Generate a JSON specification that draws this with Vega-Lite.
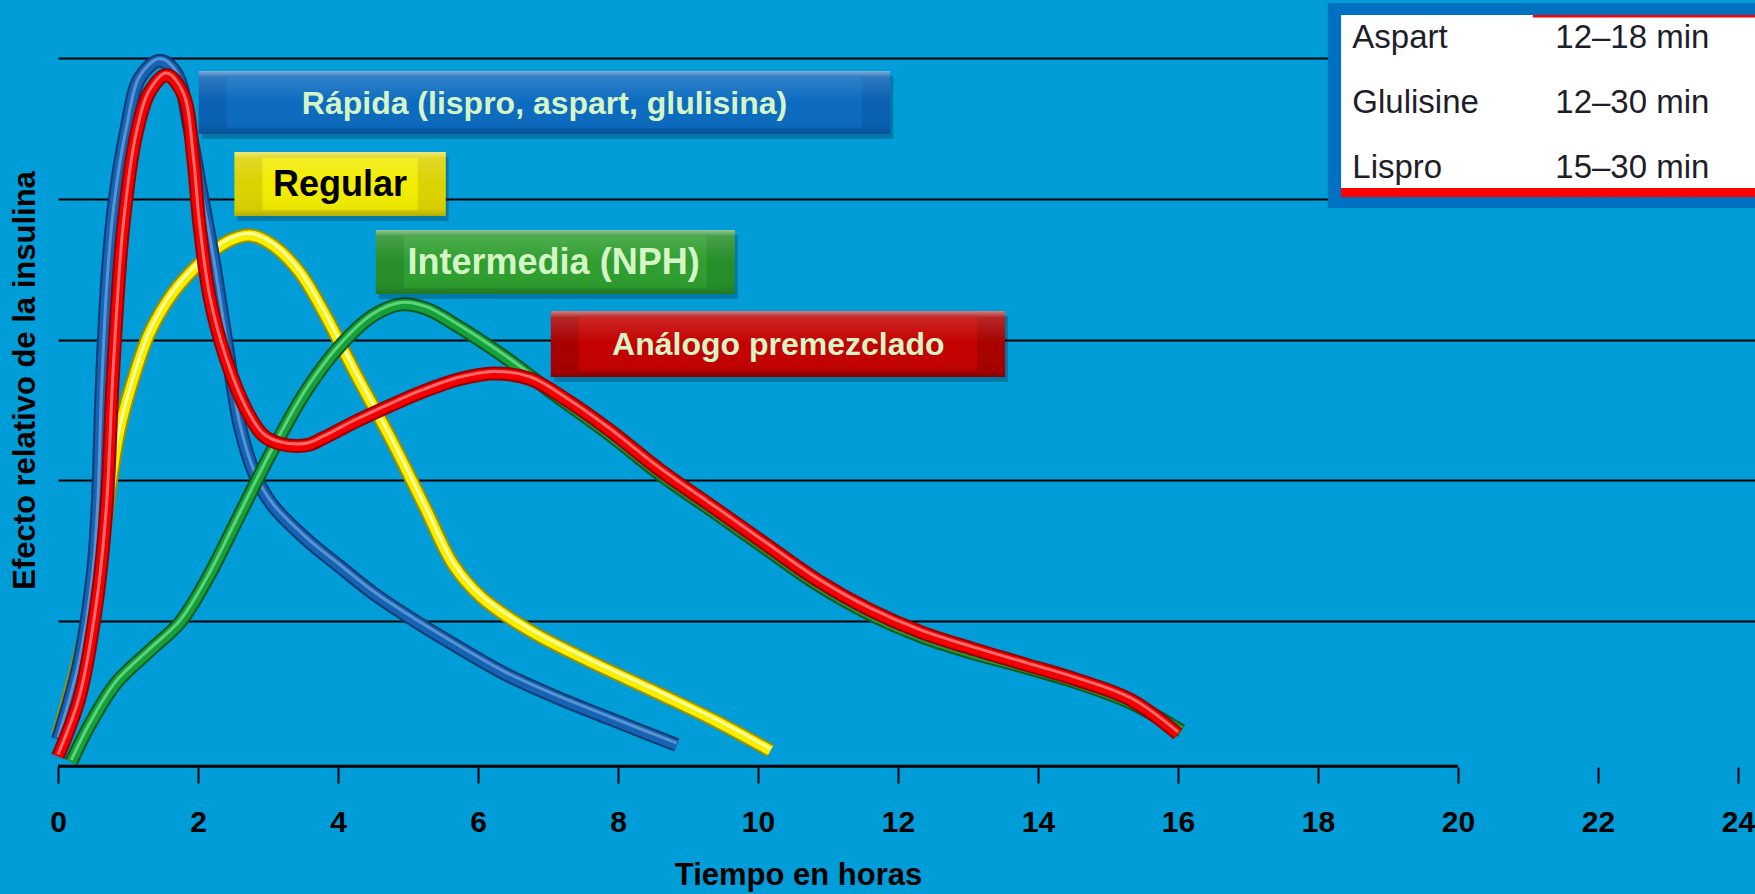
{
  "$schema": "https://vega.github.io/schema/vega-lite/v6.json",
  "width": 1697,
  "height": 767,
  "autosize": "none",
  "padding": {"left": 58, "top": 0, "right": 0, "bottom": 127},
  "background": "#019DD9",
  "config": {"view": {"stroke": null}, "font": "Liberation Sans"},
  "datasets": {
    "curvas": [
      {"serie": "Rápida", "hora": 0, "efecto": 0.16},
      {"serie": "Rápida", "hora": 0.3, "efecto": 0.7},
      {"serie": "Rápida", "hora": 0.5, "efecto": 1.35},
      {"serie": "Rápida", "hora": 0.57, "efecto": 1.85},
      {"serie": "Rápida", "hora": 0.62, "efecto": 2.6},
      {"serie": "Rápida", "hora": 0.7, "efecto": 3.4},
      {"serie": "Rápida", "hora": 0.8, "efecto": 3.95},
      {"serie": "Rápida", "hora": 0.98, "efecto": 4.5},
      {"serie": "Rápida", "hora": 1.17, "efecto": 4.86},
      {"serie": "Rápida", "hora": 1.45, "efecto": 4.98},
      {"serie": "Rápida", "hora": 1.69, "efecto": 4.89},
      {"serie": "Rápida", "hora": 1.88, "efecto": 4.5},
      {"serie": "Rápida", "hora": 2.02, "efecto": 4.12},
      {"serie": "Rápida", "hora": 2.21, "efecto": 3.6},
      {"serie": "Rápida", "hora": 2.4, "efecto": 3.0},
      {"serie": "Rápida", "hora": 2.6, "efecto": 2.38},
      {"serie": "Rápida", "hora": 2.83, "efecto": 2.02},
      {"serie": "Rápida", "hora": 3.07, "efecto": 1.82},
      {"serie": "Rápida", "hora": 3.55, "efecto": 1.58},
      {"serie": "Rápida", "hora": 4.02, "efecto": 1.39},
      {"serie": "Rápida", "hora": 4.5, "efecto": 1.2},
      {"serie": "Rápida", "hora": 4.98, "efecto": 1.04},
      {"serie": "Rápida", "hora": 5.6, "efecto": 0.85},
      {"serie": "Rápida", "hora": 6.37, "efecto": 0.63},
      {"serie": "Rápida", "hora": 7.12, "efecto": 0.46},
      {"serie": "Rápida", "hora": 7.87, "efecto": 0.31},
      {"serie": "Rápida", "hora": 8.84, "efecto": 0.12},

      {"serie": "Regular", "hora": 0, "efecto": 0.19},
      {"serie": "Regular", "hora": 0.36, "efecto": 0.86},
      {"serie": "Regular", "hora": 0.6, "efecto": 1.46},
      {"serie": "Regular", "hora": 0.88, "efecto": 2.36},
      {"serie": "Regular", "hora": 1.12, "efecto": 2.79},
      {"serie": "Regular", "hora": 1.31, "efecto": 3.05},
      {"serie": "Regular", "hora": 1.64, "efecto": 3.33},
      {"serie": "Regular", "hora": 2.02, "efecto": 3.54},
      {"serie": "Regular", "hora": 2.4, "efecto": 3.69},
      {"serie": "Regular", "hora": 2.75, "efecto": 3.74},
      {"serie": "Regular", "hora": 3.07, "efecto": 3.67},
      {"serie": "Regular", "hora": 3.45, "efecto": 3.48},
      {"serie": "Regular", "hora": 3.79, "efecto": 3.2},
      {"serie": "Regular", "hora": 4.26, "efecto": 2.75},
      {"serie": "Regular", "hora": 4.77, "efecto": 2.28},
      {"serie": "Regular", "hora": 5.25, "efecto": 1.8},
      {"serie": "Regular", "hora": 5.65, "efecto": 1.4},
      {"serie": "Regular", "hora": 6.05, "efecto": 1.17},
      {"serie": "Regular", "hora": 6.75, "efecto": 0.93},
      {"serie": "Regular", "hora": 7.49, "efecto": 0.74},
      {"serie": "Regular", "hora": 8.61, "efecto": 0.48},
      {"serie": "Regular", "hora": 9.36, "efecto": 0.3},
      {"serie": "Regular", "hora": 10.18, "efecto": 0.08},

      {"serie": "Intermedia", "hora": 0.19, "efecto": 0},
      {"serie": "Intermedia", "hora": 0.45, "efecto": 0.26},
      {"serie": "Intermedia", "hora": 0.83, "efecto": 0.56},
      {"serie": "Intermedia", "hora": 1.31, "efecto": 0.79},
      {"serie": "Intermedia", "hora": 1.74, "efecto": 0.99},
      {"serie": "Intermedia", "hora": 2.12, "efecto": 1.29},
      {"serie": "Intermedia", "hora": 2.6, "efecto": 1.76},
      {"serie": "Intermedia", "hora": 3.07, "efecto": 2.22},
      {"serie": "Intermedia", "hora": 3.55, "efecto": 2.64},
      {"serie": "Intermedia", "hora": 4.02, "efecto": 2.95},
      {"serie": "Intermedia", "hora": 4.5, "efecto": 3.17},
      {"serie": "Intermedia", "hora": 4.9, "efecto": 3.25},
      {"serie": "Intermedia", "hora": 5.26, "efecto": 3.22},
      {"serie": "Intermedia", "hora": 5.63, "efecto": 3.12},
      {"serie": "Intermedia", "hora": 6.37, "efecto": 2.88},
      {"serie": "Intermedia", "hora": 7.12, "efecto": 2.6},
      {"serie": "Intermedia", "hora": 7.87, "efecto": 2.33},
      {"serie": "Intermedia", "hora": 8.61, "efecto": 2.04},
      {"serie": "Intermedia", "hora": 9.36, "efecto": 1.78},
      {"serie": "Intermedia", "hora": 10.1, "efecto": 1.52},
      {"serie": "Intermedia", "hora": 10.85, "efecto": 1.26},
      {"serie": "Intermedia", "hora": 11.6, "efecto": 1.05},
      {"serie": "Intermedia", "hora": 12.34, "efecto": 0.89},
      {"serie": "Intermedia", "hora": 13.09, "efecto": 0.77},
      {"serie": "Intermedia", "hora": 13.84, "efecto": 0.67},
      {"serie": "Intermedia", "hora": 14.58, "efecto": 0.56},
      {"serie": "Intermedia", "hora": 15.33, "efecto": 0.42},
      {"serie": "Intermedia", "hora": 16.05, "efecto": 0.22},

      {"serie": "Análogo", "hora": 0, "efecto": 0.04},
      {"serie": "Análogo", "hora": 0.31, "efecto": 0.46},
      {"serie": "Análogo", "hora": 0.55, "efecto": 1.12},
      {"serie": "Análogo", "hora": 0.69, "efecto": 1.79},
      {"serie": "Análogo", "hora": 0.79, "efecto": 2.79},
      {"serie": "Análogo", "hora": 0.93, "efecto": 3.79},
      {"serie": "Análogo", "hora": 1.12, "efecto": 4.46},
      {"serie": "Análogo", "hora": 1.31, "efecto": 4.76},
      {"serie": "Análogo", "hora": 1.55, "efecto": 4.88},
      {"serie": "Análogo", "hora": 1.79, "efecto": 4.74},
      {"serie": "Análogo", "hora": 1.93, "efecto": 4.3},
      {"serie": "Análogo", "hora": 2.02, "efecto": 3.82},
      {"serie": "Análogo", "hora": 2.17, "efecto": 3.29},
      {"serie": "Análogo", "hora": 2.4, "efecto": 2.86},
      {"serie": "Análogo", "hora": 2.69, "efecto": 2.5},
      {"serie": "Análogo", "hora": 2.93, "efecto": 2.32},
      {"serie": "Análogo", "hora": 3.17, "efecto": 2.26},
      {"serie": "Análogo", "hora": 3.55, "efecto": 2.25},
      {"serie": "Análogo", "hora": 3.79, "efecto": 2.3},
      {"serie": "Análogo", "hora": 4.26, "efecto": 2.42},
      {"serie": "Análogo", "hora": 4.74, "efecto": 2.53},
      {"serie": "Análogo", "hora": 5.21, "efecto": 2.63},
      {"serie": "Análogo", "hora": 5.74, "efecto": 2.72},
      {"serie": "Análogo", "hora": 6.22, "efecto": 2.76},
      {"serie": "Análogo", "hora": 6.75, "efecto": 2.72},
      {"serie": "Análogo", "hora": 7.27, "efecto": 2.57},
      {"serie": "Análogo", "hora": 7.87, "efecto": 2.36},
      {"serie": "Análogo", "hora": 8.61, "efecto": 2.07},
      {"serie": "Análogo", "hora": 9.36, "efecto": 1.81},
      {"serie": "Análogo", "hora": 10.1, "efecto": 1.55},
      {"serie": "Análogo", "hora": 10.85, "efecto": 1.29},
      {"serie": "Análogo", "hora": 11.6, "efecto": 1.08},
      {"serie": "Análogo", "hora": 12.34, "efecto": 0.92},
      {"serie": "Análogo", "hora": 13.09, "efecto": 0.8},
      {"serie": "Análogo", "hora": 13.84, "efecto": 0.69},
      {"serie": "Análogo", "hora": 14.58, "efecto": 0.58},
      {"serie": "Análogo", "hora": 15.33, "efecto": 0.44},
      {"serie": "Análogo", "hora": 16.0, "efecto": 0.2}
    ],
    "cajas": [
      {"serie": "Rápida", "etiqueta": "Rápida (lispro, aspart, glulisina)", "h_ini": 2.01, "h_fin": 11.89, "e_sup": 4.908, "e_inf": 4.46, "h_txt": 6.95, "e_txt": 4.684},
      {"serie": "Regular", "etiqueta": "Regular", "h_ini": 2.52, "h_fin": 5.54, "e_sup": 4.332, "e_inf": 3.878, "h_txt": 4.03, "e_txt": 4.105},
      {"serie": "Intermedia", "etiqueta": "Intermedia (NPH)", "h_ini": 4.54, "h_fin": 9.67, "e_sup": 3.778, "e_inf": 3.324, "h_txt": 7.08, "e_txt": 3.551},
      {"serie": "Análogo", "etiqueta": "Análogo premezclado", "h_ini": 7.04, "h_fin": 13.53, "e_sup": 3.203, "e_inf": 2.734, "h_txt": 10.29, "e_txt": 2.969}
    ],
    "tabla": [
      {"insulina": "Aspart", "inicio": "12–18 min", "fila": 5.071},
      {"insulina": "Glulisine", "inicio": "12–30 min", "fila": 4.609},
      {"insulina": "Lispro", "inicio": "15–30 min", "fila": 4.148}
    ]
  },
  "layer": [
    {"data": {"name": "curvas"}, "transform": [{"filter": "datum.serie === 'Regular'"}],
     "mark": {"type": "line", "interpolate": "catmull-rom", "stroke": "#9C8F00", "strokeWidth": 14, "strokeCap": "butt", "strokeJoin": "round"},
     "encoding": {
       "x": {
         "field": "hora", "type": "quantitative",
         "scale": {"domain": [0, 24.243], "nice": false, "zero": false},
         "axis": {
           "title": "Tiempo en horas",
           "values": [0, 2, 4, 6, 8, 10, 12, 14, 16, 18, 20, 22, 24],
           "format": "d",
           "grid": false, "domain": false,
           "ticks": true, "tickColor": "black", "tickWidth": 2, "tickSize": 16,
           "labelFont": "Liberation Sans", "labelFontSize": 30, "labelFontWeight": "bold", "labelColor": "black",
           "labelBaseline": "alphabetic", "labelPadding": 48,
           "labelFlush": false, "labelOverlap": false, "labelBound": false,
           "titleFont": "Liberation Sans", "titleFontSize": 31, "titleFontWeight": "bold", "titleColor": "black",
           "titleX": 740, "titleY": 117, "titleAlign": "center", "titleBaseline": "alphabetic"
         }
       },
       "y": {
         "field": "efecto", "type": "quantitative",
         "scale": {"domain": [-0.0355, 5.412], "nice": false, "zero": false},
         "axis": {
           "title": "Efecto relativo de la insulina",
           "values": [1, 2, 3, 4, 5],
           "grid": true, "gridColor": "black", "gridWidth": 2,
           "labels": false, "ticks": false, "domain": false,
           "titleFont": "Liberation Sans", "titleFontSize": 31, "titleFontWeight": "bold", "titleColor": "black",
           "titleAngle": 270, "titleX": -33, "titleY": 380, "titleAlign": "center", "titleBaseline": "middle"
         }
       }
     }},

    {"data": {"values": [{}]},
     "mark": {"type": "rule", "color": "black", "strokeWidth": 3},
     "encoding": {
       "x": {"datum": 0, "type": "quantitative"},
       "x2": {"datum": 20},
       "y": {"datum": -0.03, "type": "quantitative"}}},

    {"data": {"name": "curvas"}, "transform": [{"filter": "datum.serie === 'Regular'"}],
     "mark": {"type": "line", "interpolate": "catmull-rom", "stroke": "#F7EE00", "strokeWidth": 10, "strokeCap": "butt", "strokeJoin": "round"},
     "encoding": {"x": {"field": "hora", "type": "quantitative"}, "y": {"field": "efecto", "type": "quantitative"}}},
    {"data": {"name": "curvas"}, "transform": [{"filter": "datum.serie === 'Regular'"}],
     "mark": {"type": "line", "interpolate": "catmull-rom", "stroke": "#FFFFA0", "strokeWidth": 3, "strokeCap": "butt", "strokeJoin": "round", "yOffset": -2},
     "encoding": {"x": {"field": "hora", "type": "quantitative"}, "y": {"field": "efecto", "type": "quantitative"}}},

    {"data": {"name": "curvas"}, "transform": [{"filter": "datum.serie === 'Rápida'"}],
     "mark": {"type": "line", "interpolate": "catmull-rom", "stroke": "#0B3C74", "strokeWidth": 14, "strokeCap": "butt", "strokeJoin": "round"},
     "encoding": {"x": {"field": "hora", "type": "quantitative"}, "y": {"field": "efecto", "type": "quantitative"}}},
    {"data": {"name": "curvas"}, "transform": [{"filter": "datum.serie === 'Rápida'"}],
     "mark": {"type": "line", "interpolate": "catmull-rom", "stroke": "#1463B4", "strokeWidth": 10, "strokeCap": "butt", "strokeJoin": "round"},
     "encoding": {"x": {"field": "hora", "type": "quantitative"}, "y": {"field": "efecto", "type": "quantitative"}}},
    {"data": {"name": "curvas"}, "transform": [{"filter": "datum.serie === 'Rápida'"}],
     "mark": {"type": "line", "interpolate": "catmull-rom", "stroke": "#5A93D2", "strokeWidth": 3, "strokeCap": "butt", "strokeJoin": "round", "yOffset": -2},
     "encoding": {"x": {"field": "hora", "type": "quantitative"}, "y": {"field": "efecto", "type": "quantitative"}}},

    {"data": {"name": "curvas"}, "transform": [{"filter": "datum.serie === 'Intermedia'"}],
     "mark": {"type": "line", "interpolate": "catmull-rom", "stroke": "#0A5A20", "strokeWidth": 14, "strokeCap": "butt", "strokeJoin": "round"},
     "encoding": {"x": {"field": "hora", "type": "quantitative"}, "y": {"field": "efecto", "type": "quantitative"}}},
    {"data": {"name": "curvas"}, "transform": [{"filter": "datum.serie === 'Intermedia'"}],
     "mark": {"type": "line", "interpolate": "catmull-rom", "stroke": "#16A03A", "strokeWidth": 10, "strokeCap": "butt", "strokeJoin": "round"},
     "encoding": {"x": {"field": "hora", "type": "quantitative"}, "y": {"field": "efecto", "type": "quantitative"}}},
    {"data": {"name": "curvas"}, "transform": [{"filter": "datum.serie === 'Intermedia'"}],
     "mark": {"type": "line", "interpolate": "catmull-rom", "stroke": "#5DD47B", "strokeWidth": 3, "strokeCap": "butt", "strokeJoin": "round", "yOffset": -2},
     "encoding": {"x": {"field": "hora", "type": "quantitative"}, "y": {"field": "efecto", "type": "quantitative"}}},

    {"data": {"name": "curvas"}, "transform": [{"filter": "datum.serie === 'Análogo'"}],
     "mark": {"type": "line", "interpolate": "catmull-rom", "stroke": "#960000", "strokeWidth": 14, "strokeCap": "butt", "strokeJoin": "round"},
     "encoding": {"x": {"field": "hora", "type": "quantitative"}, "y": {"field": "efecto", "type": "quantitative"}}},
    {"data": {"name": "curvas"}, "transform": [{"filter": "datum.serie === 'Análogo'"}],
     "mark": {"type": "line", "interpolate": "catmull-rom", "stroke": "#F20000", "strokeWidth": 10, "strokeCap": "butt", "strokeJoin": "round"},
     "encoding": {"x": {"field": "hora", "type": "quantitative"}, "y": {"field": "efecto", "type": "quantitative"}}},
    {"data": {"name": "curvas"}, "transform": [{"filter": "datum.serie === 'Análogo'"}],
     "mark": {"type": "line", "interpolate": "catmull-rom", "stroke": "#FF6A6A", "strokeWidth": 3, "strokeCap": "butt", "strokeJoin": "round", "yOffset": -2},
     "encoding": {"x": {"field": "hora", "type": "quantitative"}, "y": {"field": "efecto", "type": "quantitative"}}},

    {"data": {"name": "cajas"},
     "mark": {"type": "rect", "color": "black", "opacity": 0.22, "xOffset": 3, "x2Offset": 3, "yOffset": 5, "y2Offset": 5},
     "encoding": {
       "x": {"field": "h_ini", "type": "quantitative"}, "x2": {"field": "h_fin"},
       "y": {"field": "e_sup", "type": "quantitative"}, "y2": {"field": "e_inf"}}},
    {"data": {"name": "cajas"},
     "mark": {"type": "rect"},
     "encoding": {
       "x": {"field": "h_ini", "type": "quantitative"}, "x2": {"field": "h_fin"},
       "y": {"field": "e_sup", "type": "quantitative"}, "y2": {"field": "e_inf"},
       "fill": {"field": "serie", "type": "nominal", "legend": null,
                "scale": {"domain": ["Rápida", "Regular", "Intermedia", "Análogo"], "range": ["#0A60B2", "#DCD200", "#268E2A", "#A80000"]}}}},
    {"data": {"name": "cajas"},
     "mark": {"type": "rect", "xOffset": 28, "x2Offset": -28, "yOffset": 6, "y2Offset": -6},
     "encoding": {
       "x": {"field": "h_ini", "type": "quantitative"}, "x2": {"field": "h_fin"},
       "y": {"field": "e_sup", "type": "quantitative"}, "y2": {"field": "e_inf"},
       "color": {"field": "serie", "type": "nominal", "legend": null,
                 "scale": {"domain": ["Rápida", "Regular", "Intermedia", "Análogo"], "range": ["#0B6BC0", "#F2EC00", "#2E9E2E", "#C40000"]}}}},
    {"data": {"name": "cajas"},
     "mark": {"type": "rect",
              "fill": {"gradient": "linear", "x1": 0, "y1": 0, "x2": 0, "y2": 1,
                       "stops": [
                         {"offset": 0, "color": "rgba(255,255,255,0.5)"},
                         {"offset": 0.1, "color": "rgba(255,255,255,0.15)"},
                         {"offset": 0.5, "color": "rgba(255,255,255,0)"},
                         {"offset": 0.9, "color": "rgba(0,0,0,0.04)"},
                         {"offset": 1, "color": "rgba(0,0,0,0.18)"}]}},
     "encoding": {
       "x": {"field": "h_ini", "type": "quantitative"}, "x2": {"field": "h_fin"},
       "y": {"field": "e_sup", "type": "quantitative"}, "y2": {"field": "e_inf"}}},
    {"data": {"name": "cajas"},
     "mark": {"type": "text", "font": "Liberation Sans", "fontWeight": "bold", "align": "center", "baseline": "middle", "dy": 1},
     "encoding": {
       "x": {"field": "h_txt", "type": "quantitative"},
       "y": {"field": "e_txt", "type": "quantitative"},
       "text": {"field": "etiqueta"},
       "color": {"condition": {"test": "datum.serie === 'Regular'", "value": "#000000"}, "value": "#D6F5C6"},
       "size": {"condition": {"test": "datum.serie === 'Regular' || datum.serie === 'Intermedia'", "value": 36}, "value": 32}}},

    {"data": {"values": [{}]},
     "mark": {"type": "rect", "color": "#0070C0"},
     "encoding": {"x": {"datum": 18.14, "type": "quantitative"}, "x2": {"datum": 24.243},
                  "y": {"datum": 5.391, "type": "quantitative"}, "y2": {"datum": 3.935}}},
    {"data": {"values": [{}]},
     "mark": {"type": "rect", "color": "#FFFFFF"},
     "encoding": {"x": {"datum": 18.33, "type": "quantitative"}, "x2": {"datum": 24.243},
                  "y": {"datum": 5.305, "type": "quantitative"}, "y2": {"datum": 4.077}}},
    {"data": {"values": [{}]},
     "mark": {"type": "rect", "color": "#FF0000"},
     "encoding": {"x": {"datum": 18.33, "type": "quantitative"}, "x2": {"datum": 24.243},
                  "y": {"datum": 4.077, "type": "quantitative"}, "y2": {"datum": 4.013}}},
    {"data": {"values": [{}]},
     "mark": {"type": "rect", "color": "#FF0000"},
     "encoding": {"x": {"datum": 21.07, "type": "quantitative"}, "x2": {"datum": 24.243},
                  "y": {"datum": 5.305, "type": "quantitative"}, "y2": {"datum": 5.288}}},
    {"data": {"name": "tabla"},
     "mark": {"type": "text", "font": "Liberation Sans", "fontSize": 33, "align": "left", "baseline": "alphabetic", "color": "#1E1E2A"},
     "encoding": {"x": {"datum": 18.49, "type": "quantitative"},
                  "y": {"field": "fila", "type": "quantitative"},
                  "text": {"field": "insulina"}}},
    {"data": {"name": "tabla"},
     "mark": {"type": "text", "font": "Liberation Sans", "fontSize": 33, "align": "left", "baseline": "alphabetic", "color": "#1E1E2A"},
     "encoding": {"x": {"datum": 21.39, "type": "quantitative"},
                  "y": {"field": "fila", "type": "quantitative"},
                  "text": {"field": "inicio"}}}
  ]
}
